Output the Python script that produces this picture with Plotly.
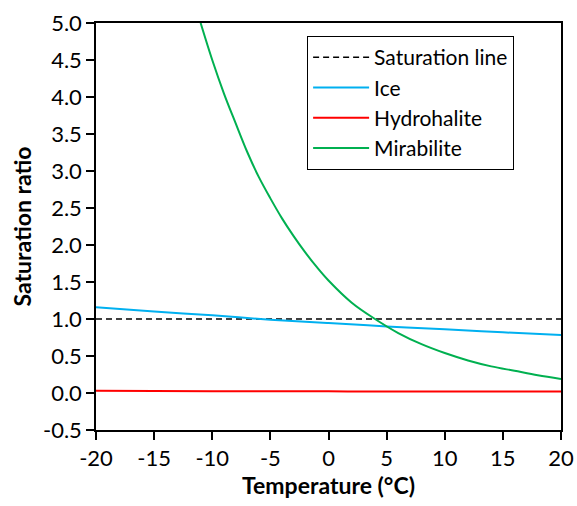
import plotly.graph_objects as go

# Data
sat_T = [-20, 20]
sat_v = [1.0, 1.0]

ice_T = [-20, -15, -10, -5, 0, 5, 10, 15, 20]
ice_v = [1.16, 1.10, 1.05, 0.99, 0.945, 0.90, 0.86, 0.82, 0.785]

hydro_T = [-20, -10, 0, 10, 20]
hydro_v = [0.03, 0.025, 0.022, 0.02, 0.02]

mira_T = [-11, -10, -9, -8, -7, -6, -5, -4, -3, -2, -1, 0, 2, 4, 6, 8, 10, 12, 14, 16, 18, 20]
mira_v = [5.0, 4.50, 4.05, 3.65, 3.26, 2.92, 2.63, 2.36, 2.12, 1.90, 1.70, 1.52, 1.22, 1.00, 0.81, 0.66, 0.54, 0.44, 0.36, 0.30, 0.24, 0.19]

x_ticks = [-20, -15, -10, -5, 0, 5, 10, 15, 20]
x_tick_labels = ["-20", "-15", "-10", "-5", "0", "5", "10", "15", "20"]
y_ticks = [-0.5, 0.0, 0.5, 1.0, 1.5, 2.0, 2.5, 3.0, 3.5, 4.0, 4.5, 5.0]
y_tick_labels = ["-0.5", "0.0", "0.5", "1.0", "1.5", "2.0", "2.5", "3.0", "3.5", "4.0", "4.5", "5.0"]

FONT = "Lato"

fig = go.Figure()
fig.add_trace(go.Scatter(x=sat_T, y=sat_v, mode="lines", name="Saturation line",
                         line=dict(color="black", width=1.5, dash="6px,4px")))
fig.add_trace(go.Scatter(x=ice_T, y=ice_v, mode="lines", name="Ice",
                         line=dict(color="#00B0F0", width=2, shape="spline")))
fig.add_trace(go.Scatter(x=hydro_T, y=hydro_v, mode="lines", name="Hydrohalite",
                         line=dict(color="#FF0000", width=2, shape="spline")))
fig.add_trace(go.Scatter(x=mira_T, y=mira_v, mode="lines", name="Mirabilite",
                         line=dict(color="#00B050", width=2, shape="spline")))

fig.update_layout(
    width=577, height=506,
    margin=dict(l=96, r=16, t=23, b=76, autoexpand=False),
    paper_bgcolor="white", plot_bgcolor="white",
    font=dict(family=FONT, size=22, color="black"),
    showlegend=True,
    legend=dict(x=0.454, y=0.968, xanchor="left", yanchor="top",
                bordercolor="black", borderwidth=1, bgcolor="white",
                font=dict(family=FONT, size=21, color="black"),
                itemwidth=56, tracegroupgap=0),
    xaxis=dict(range=[-20, 20], tickvals=x_ticks, ticktext=x_tick_labels,
               showgrid=False, zeroline=False, showline=True, linecolor="black",
               linewidth=1.5, mirror=True, ticks="outside", ticklen=8,
               tickcolor="black", tickwidth=1.5, automargin=False,
               title=dict(text="<b>Temperature (°C)</b>", font=dict(size=23), standoff=8)),
    yaxis=dict(range=[-0.5, 5.0], tickvals=y_ticks, ticktext=y_tick_labels,
               showgrid=False, zeroline=False, showline=True, linecolor="black",
               linewidth=1.5, mirror=True, ticks="outside", ticklen=8,
               tickcolor="black", tickwidth=1.5, automargin=False,
               title=dict(text="<b>Saturation ratio</b>", font=dict(size=23), standoff=5)),
)

fig.write_html("out.html", config={"displayModeBar": False},
               post_script="document.body.style.margin='0';document.body.style.overflow='hidden';")
